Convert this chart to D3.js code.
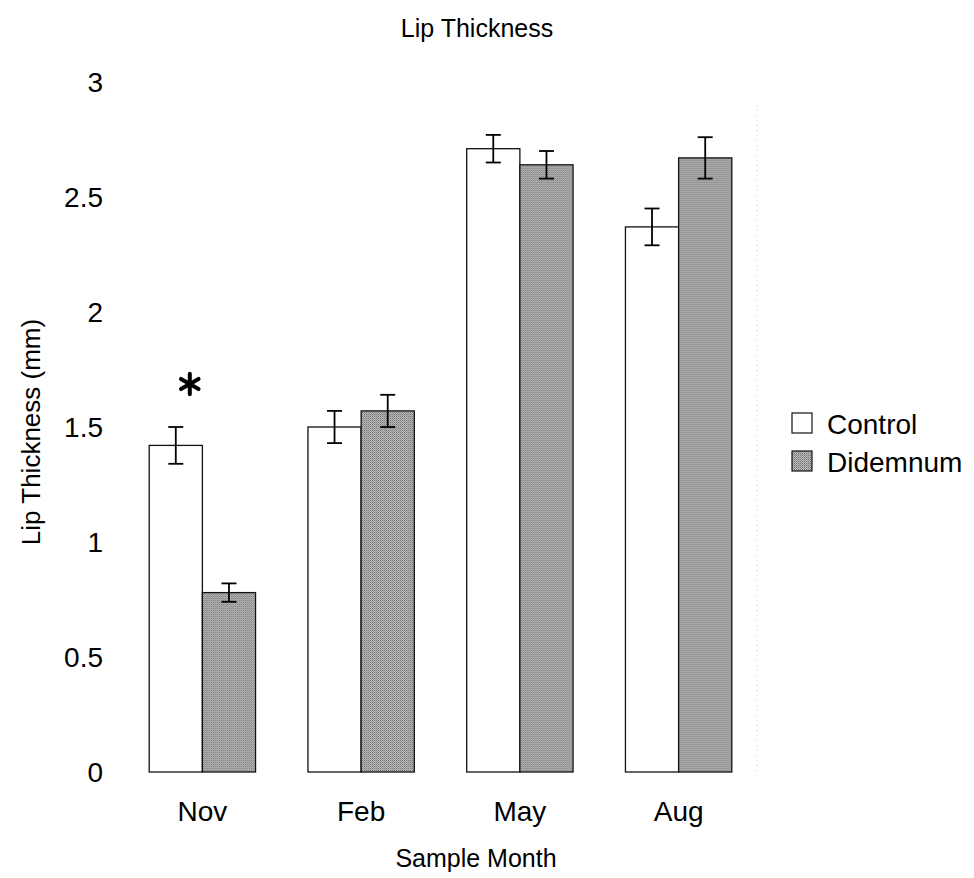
<!DOCTYPE html>
<html>
<head>
<meta charset="utf-8">
<script src="https://cdn.jsdelivr.net/npm/d3@7"></script>
<style>
  body { margin: 0; background: #fff; }
  text { font-family: "Liberation Sans", Arial, sans-serif; fill: #000; }
</style>
</head>
<body>
<div id="chart"></div>
<script>
// data
var months = ["Nov", "Feb", "May", "Aug"];
var groups = ["Control", "Didemnum"];
var controlMean = [1.42, 1.50, 2.71, 2.37];
var controlErr = [0.08, 0.07, 0.06, 0.08];
var didemnumMean = [0.78, 1.57, 2.64, 2.67];
var didemnumErr = [0.04, 0.07, 0.06, 0.09];
var yTicks = [0, 0.5, 1, 1.5, 2, 2.5, 3];
var signif = ["Nov"]; // months marked with *

var width = 974, height = 878;
var svg = d3.select("#chart").append("svg")
  .attr("width", width)
  .attr("height", height);

// halftone-ish fill for the Didemnum bars
var defs = svg.append("defs");
var pat = defs.append("pattern")
  .attr("id", "halftone")
  .attr("patternUnits", "userSpaceOnUse")
  .attr("width", 2).attr("height", 2);
pat.append("rect").attr("width", 2).attr("height", 2).attr("fill", "#bababa");
pat.append("rect").attr("width", 1).attr("height", 1).attr("fill", "#747474");
pat.append("rect").attr("x", 1).attr("y", 1).attr("width", 1).attr("height", 1).attr("fill", "#949494");

var y = d3.scaleLinear().domain([0, 3]).range([772, 82]);
var x0 = d3.scaleBand().domain(months).range([123, 758])
  .paddingInner(0.33).paddingOuter(0.165);
var x1 = d3.scaleBand().domain(groups).range([0, x0.bandwidth()]);

var rows = months.map(function (m, i) {
  return {
    month: m,
    vals: [
      { g: "Control", v: controlMean[i], e: controlErr[i] },
      { g: "Didemnum", v: didemnumMean[i], e: didemnumErr[i] }
    ]
  };
});

// faint right frame left over in the scan
svg.append("line")
  .attr("x1", 757).attr("x2", 757)
  .attr("y1", y(2.9)).attr("y2", y(0))
  .attr("stroke", "#ccc")
  .attr("stroke-dasharray", "1,4");

// y tick labels only, no axis line
svg.append("g").selectAll("text")
  .data(yTicks)
  .enter().append("text")
  .attr("x", 103)
  .attr("y", function (d) { return y(d); })
  .attr("dy", "0.36em")
  .attr("text-anchor", "end")
  .attr("font-size", 28)
  .text(function (d) { return d; });

var g = svg.append("g").selectAll("g")
  .data(rows)
  .enter().append("g")
  .attr("transform", function (d) { return "translate(" + x0(d.month) + ",0)"; });

g.selectAll("rect")
  .data(function (d) { return d.vals; })
  .enter().append("rect")
  .attr("x", function (d) { return x1(d.g); })
  .attr("y", function (d) { return y(d.v); })
  .attr("width", x1.bandwidth())
  .attr("height", function (d) { return y(0) - y(d.v); })
  .attr("fill", function (d) { return d.g == "Control" ? "#fff" : "url(#halftone)"; })
  .attr("stroke", "#111")
  .attr("stroke-width", 1.3);

// error bars
var eb = g.selectAll("g.err")
  .data(function (d) { return d.vals; })
  .enter().append("g")
  .attr("class", "err")
  .attr("stroke", "#000")
  .attr("stroke-width", 1.8);
eb.append("line")
  .attr("x1", function (d) { return x1(d.g) + x1.bandwidth() / 2; })
  .attr("x2", function (d) { return x1(d.g) + x1.bandwidth() / 2; })
  .attr("y1", function (d) { return y(d.v - d.e); })
  .attr("y2", function (d) { return y(d.v + d.e); });
eb.selectAll("line.cap")
  .data(function (d) { return [d.v - d.e, d.v + d.e].map(function (t) { return { g: d.g, t: t }; }); })
  .enter().append("line")
  .attr("class", "cap")
  .attr("x1", function (d) { return x1(d.g) + x1.bandwidth() / 2 - 7.5; })
  .attr("x2", function (d) { return x1(d.g) + x1.bandwidth() / 2 + 7.5; })
  .attr("y1", function (d) { return y(d.t); })
  .attr("y2", function (d) { return y(d.t); });

// significance star
g.filter(function (d) { return signif.indexOf(d.month) >= 0; })
  .append("path")
  .attr("d", d3.symbol(d3.symbolAsterisk, 290))
  .attr("transform", function (d) {
    return "translate(" + (x1("Control") + x1.bandwidth() / 2 + 14) + "," + (y(d.vals[0].v + d.vals[0].e) - 43) + ")";
  })
  .attr("fill", "none")
  .attr("stroke", "#000")
  .attr("stroke-width", 4)
  .attr("stroke-linecap", "round");

// x labels
svg.append("g").selectAll("text")
  .data(months)
  .enter().append("text")
  .attr("x", function (d) { return x0(d) + x0.bandwidth() / 2; })
  .attr("y", 821)
  .attr("text-anchor", "middle")
  .attr("font-size", 28)
  .text(function (d) { return d; });

// titles
svg.append("text")
  .attr("x", 477).attr("y", 37)
  .attr("text-anchor", "middle")
  .attr("font-size", 25)
  .text("Lip Thickness");

svg.append("text")
  .attr("x", 476).attr("y", 867)
  .attr("text-anchor", "middle")
  .attr("font-size", 25)
  .text("Sample Month");

svg.append("text")
  .attr("transform", "translate(40,432) rotate(-90)")
  .attr("text-anchor", "middle")
  .attr("font-size", 26)
  .text("Lip Thickness (mm)");

// legend
var leg = svg.append("g").selectAll("g")
  .data(groups)
  .enter().append("g")
  .attr("transform", function (d, i) { return "translate(792," + (413 + i * 38) + ")"; });
leg.append("rect")
  .attr("width", 20).attr("height", 20)
  .attr("fill", function (d) { return d == "Control" ? "#fff" : "url(#halftone)"; })
  .attr("stroke", "#111")
  .attr("stroke-width", 1.2);
leg.append("text")
  .attr("x", 35).attr("y", 21)
  .attr("font-size", 28)
  .text(function (d) { return d; });
</script>
</body>
</html>
